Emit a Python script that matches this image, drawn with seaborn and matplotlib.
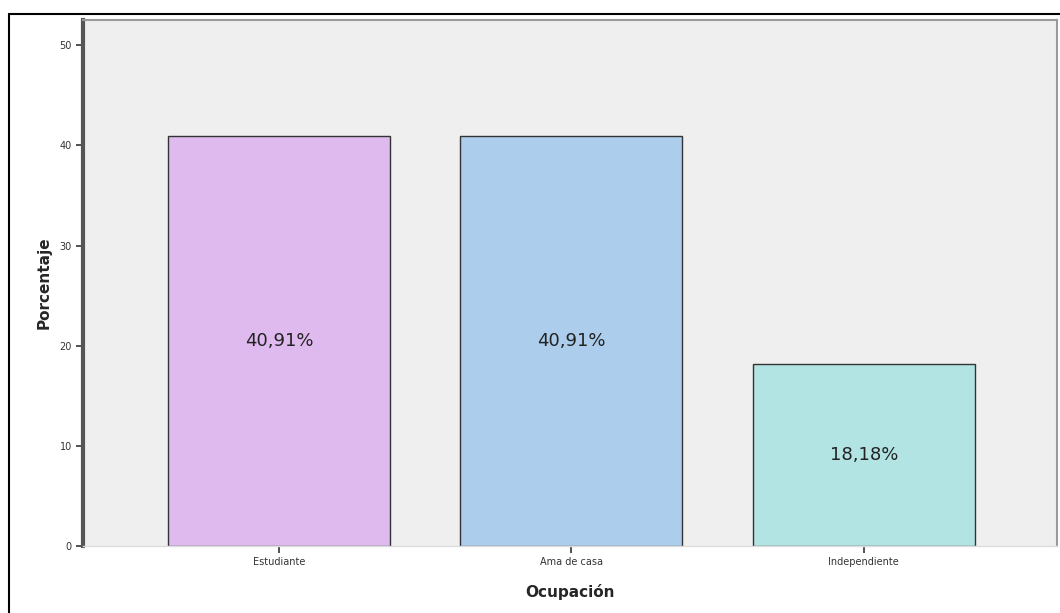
import matplotlib
matplotlib.use("Agg")
import matplotlib.pyplot as plt
from matplotlib.lines import Line2D
import seaborn as sns
import pandas as pd

# Occupation distribution (percent of respondents)
categorias = ["Estudiante", "Ama de casa", "Independiente"]
porcentajes = [40.91, 40.91, 18.18]
colores = ["#DEBAEE", "#ACCEEC", "#B2E4E4"]
ticks_y = [0, 10, 20, 30, 40, 50]

df = pd.DataFrame({"Ocupación": categorias, "Porcentaje": porcentajes})

sns.set_theme(style="white")
plt.rcParams["font.family"] = ["DejaVu Sans"]

fig = plt.figure(figsize=(10.6, 6.13), dpi=100)
ax = fig.add_axes([0.0783, 0.1093, 0.9187, 0.8577])
ax.set_facecolor("#EFEFEF")

sns.barplot(data=df, x="Ocupación", y="Porcentaje", hue="Ocupación",
            palette=colores, order=categorias, hue_order=categorias,
            width=0.76, edgecolor="#333333", linewidth=1.0, saturation=1,
            legend=False, ax=ax)

for cont, v in zip(ax.containers, porcentajes):
    ax.bar_label(cont, labels=[f"{v:.2f}%".replace(".", ",")],
                 label_type="center", fontsize=13, color="#222222")

ax.set_xlim(-0.67, 2.66)
ax.set_ylim(0, 52.5)
ax.set_yticks(ticks_y)
ax.set_yticklabels([str(t) for t in ticks_y], fontsize=7, color="#333333")
ax.set_xticks(range(len(categorias)))
ax.set_xticklabels(categorias, fontsize=7, color="#333333")
ax.tick_params(axis="both", which="both", direction="out", length=5,
               width=1.2, color="#333333", left=True, bottom=True, pad=3)

ax.set_ylabel("Porcentaje", fontsize=11, fontweight="bold", labelpad=6)
ax.set_xlabel("Ocupación", fontsize=11, fontweight="bold", labelpad=12)

for side in ["top", "right"]:
    ax.spines[side].set_color("#9A9A9A")
    ax.spines[side].set_linewidth(1.5)
ax.spines["bottom"].set_color("#DDDDDD")
ax.spines["bottom"].set_linewidth(1.0)
ax.spines["left"].set_color("#555555")
ax.spines["left"].set_linewidth(3.0)

# Outer frame lines around the chart
W, H = 1060, 613
fig.add_artist(Line2D([9 / W, 9 / W], [0, 1 - 14 / H], color="black",
                      linewidth=1.5, transform=fig.transFigure))
fig.add_artist(Line2D([9 / W, 1], [1 - 14 / H, 1 - 14 / H], color="black",
                      linewidth=1.5, transform=fig.transFigure))

fig.savefig("out.png", dpi=100, facecolor="white")
